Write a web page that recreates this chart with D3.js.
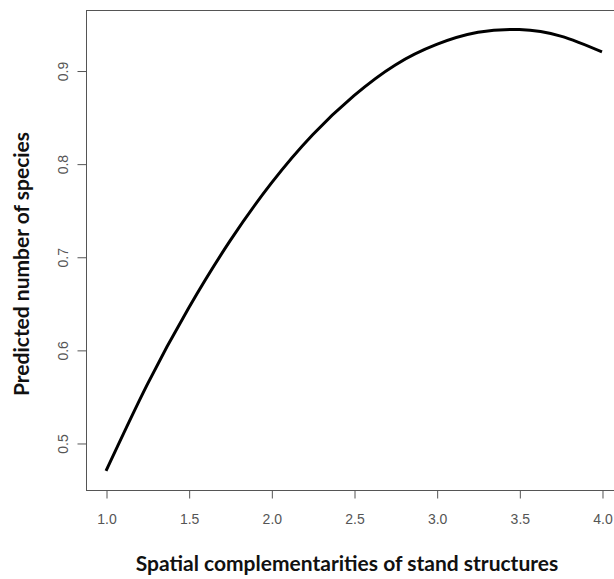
<!DOCTYPE html>
<html>
<head>
<meta charset="utf-8">
<script src="https://cdn.jsdelivr.net/npm/d3@7"></script>
<style>
  body { margin: 0; background: #fff; }
  .tick text { font-family: "Liberation Sans", Arial, sans-serif; fill: #555; }
  .title { font-family: Lato, "Open Sans", sans-serif; font-weight: bold; fill: #111; }
</style>
</head>
<body>
<div id="chart"></div>
<script>
// values
const complementarity = [1.0, 1.25, 1.5, 1.75, 2.0, 2.25, 2.5, 2.75, 3.0, 3.25, 3.5, 3.75, 4.0]
const predicted = [0.470, 0.563, 0.645, 0.717, 0.779, 0.831, 0.873, 0.906, 0.928, 0.941, 0.944, 0.937, 0.920]
const xTicks = [1.0, 1.5, 2.0, 2.5, 3.0, 3.5, 4.0]
const yTicks = [0.5, 0.6, 0.7, 0.8, 0.9]

const W = 614, H = 579
const BOX = { LEFT: 86, TOP: 10, RIGHT: 622, BOTTOM: 490 }

const svg = d3.select("#chart").append("svg")
    .attr("width", W)
    .attr("height", H)

const x = d3.scaleLinear().domain([0.879, 4.121]).range([BOX.LEFT, BOX.RIGHT])
const y = d3.scaleLinear().domain([0.4495, 0.965]).range([BOX.BOTTOM, BOX.TOP])

// plot frame (right side runs off the picture)
svg.append("rect")
    .attr("x", BOX.LEFT + 0.5)
    .attr("y", BOX.TOP + 0.5)
    .attr("width", BOX.RIGHT - BOX.LEFT)
    .attr("height", BOX.BOTTOM - BOX.TOP)
    .attr("fill", "none")
    .attr("stroke", "#555")
    .attr("stroke-width", 1)

//axes
const xAxis = svg.append("g")
    .attr("transform", `translate(0.5, ${BOX.BOTTOM + 0.5})`)
    .call(d3.axisBottom(x).tickValues(xTicks).tickFormat(d3.format(".1f")).tickSize(8).tickPadding(16))
xAxis.select(".domain").attr("stroke", "#555").attr("d", `M${x(1)},0H${x(4)}`)
xAxis.selectAll(".tick line").attr("stroke", "#555")
xAxis.selectAll(".tick text").attr("font-size", 14)

const yAxis = svg.append("g")
    .attr("transform", `translate(${BOX.LEFT + 0.5}, 0.5)`)
    .call(d3.axisLeft(y).tickValues(yTicks).tickFormat(d3.format(".1f")).tickSize(9).tickPadding(8))
yAxis.select(".domain").attr("stroke", "#555").attr("d", `M0,${y(0.5)}V${y(0.9)}`)
yAxis.selectAll(".tick line").attr("stroke", "#555")
yAxis.selectAll(".tick text")
    .attr("font-size", 14)
    .attr("text-anchor", "middle")
    .attr("dy", 0)
    .attr("x", 0)
    .attr("transform", "translate(-19, 0) rotate(-90)")

// curve
const line = d3.line()
    .x((d, i) => x(complementarity[i]))
    .y(d => y(d))
    .curve(d3.curveNatural)

svg.append("path")
    .datum(predicted)
    .attr("d", line)
    .attr("fill", "none")
    .attr("stroke", "#000")
    .attr("stroke-width", 3)

// titles
svg.append("text")
    .attr("class", "title")
    .attr("x", 347)
    .attr("y", 571)
    .attr("text-anchor", "middle")
    .attr("font-size", 21)
    .text("Spatial complementarities of stand structures")

svg.append("text")
    .attr("class", "title")
    .attr("transform", `translate(29, 264) rotate(-90)`)
    .attr("text-anchor", "middle")
    .attr("font-size", 21)
    .text("Predicted number of species")
</script>
</body>
</html>
